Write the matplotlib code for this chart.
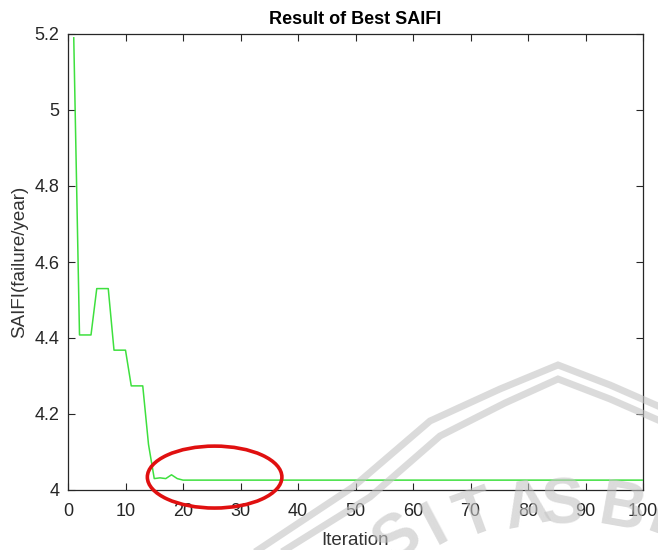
import matplotlib
matplotlib.use('Agg')
import matplotlib.pyplot as plt
from matplotlib.patches import Ellipse
from matplotlib.lines import Line2D

plt.rcParams['font.family'] = ['Liberation Sans', 'DejaVu Sans']

# best SAIFI per iteration
iterations = list(range(1, 101))
saifi = [5.19, 4.408, 4.408, 4.408, 4.53, 4.53, 4.53, 4.368, 4.368, 4.368,
         4.274, 4.274, 4.274, 4.12, 4.030, 4.032, 4.030, 4.040, 4.030] + [4.026] * 81

x_ticks = list(range(0, 101, 10))
y_ticks = [4.0, 4.2, 4.4, 4.6, 4.8, 5.0, 5.2]
y_tick_labels = ['4', '4.2', '4.4', '4.6', '4.8', '5', '5.2']

W, H = 658, 550
fig = plt.figure(figsize=(W / 100, H / 100), dpi=100)
ax = fig.add_axes([68 / W, 1 - 490 / H, 575 / W, 456 / H])

ax.plot(iterations, saifi, color='#3ee03e', linewidth=1.1, zorder=12)

ax.set_xlim(0, 100)
ax.set_ylim(4.0, 5.2)
ax.set_xticks(x_ticks)
ax.set_yticks(y_ticks)
ax.set_yticklabels(y_tick_labels)
ax.tick_params(direction='in', length=5, width=0.8, labelsize=13,
               colors='#262626', top=True, right=True)
ax.tick_params(axis='x', pad=9)
ax.tick_params(axis='y', pad=6)
for s in ax.spines.values():
    s.set_color('#262626')
    s.set_linewidth(0.9)

ax.set_title('Result of Best SAIFI', fontsize=13, fontweight='bold', pad=7)
ax.set_xlabel('Iteration', fontsize=13.5, color='#333333', labelpad=9)
ax.set_ylabel('SAIFI(failure/year)', fontsize=13.5, color='#333333', labelpad=5)

# red ellipse highlighting the convergence
ax.add_patch(Ellipse((25.5, 4.034), 23.4, 0.163, fill=False, edgecolor='#e01010',
                     linewidth=2.6, clip_on=False, zorder=15))

# faint watermark from the source document
wm = '#c4c4c4'
outer = [(258, 550), (353, 487), (430, 421), (500, 389), (558, 365), (610, 385), (658, 406)]
inner = [(285, 550), (370, 497), (440, 436), (505, 403), (558, 379), (610, 399), (658, 420)]
for path in (outer, inner):
    fig.add_artist(Line2D([p[0] / W for p in path], [1 - p[1] / H for p in path],
                          color=wm, linewidth=5, alpha=0.6, zorder=1,
                          solid_joinstyle='miter'))
letters = ['S', 'I', 'T', 'A', 'S', 'B', 'R']
lx = [398, 436, 476, 527, 563, 622, 672]
ly = [540, 526, 516, 508, 506, 510, 522]
rot = [36, 28, 20, 11, 3, -10, -20]
for ch, x, y, r in zip(letters, lx, ly, rot):
    fig.text(x / W, 1 - y / H, ch, fontsize=46, fontweight='bold', color=wm,
             rotation=r, ha='center', va='center', alpha=0.6, zorder=1)

fig.savefig('out.png', dpi=100)
